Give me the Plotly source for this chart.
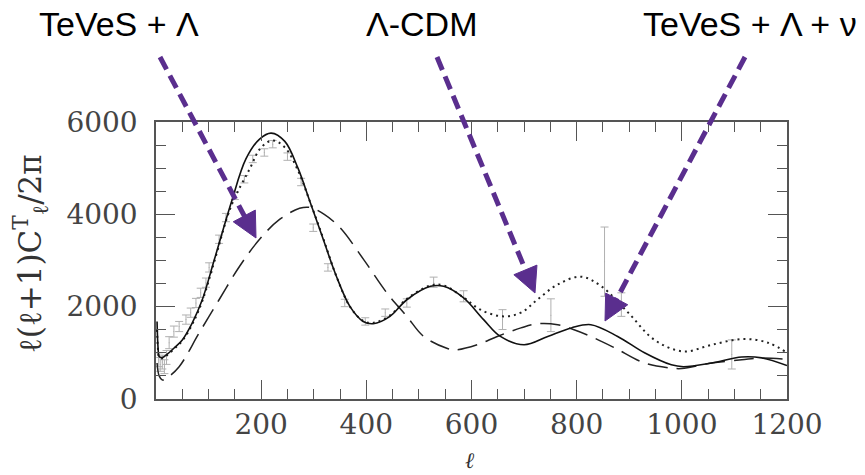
import plotly.graph_objects as go
import math

# ---------------- data ----------------
# solid curve (TeVeS + Lambda + nu)
ell_solid = [2, 4, 6, 12, 20, 34, 50, 69, 88, 111, 143, 171, 197, 219, 245, 270, 292, 318,
             343, 369, 394, 413, 445, 477, 522, 547, 585, 623, 655, 700, 745, 790, 827,
             878, 929, 980, 1003, 1057, 1114, 1152, 1200]
cl_solid = [1680, 1100, 920, 900, 960, 1100, 1280, 1650, 2150, 3020, 4250, 5200, 5630, 5760,
            5580, 5000, 4300, 3460, 2660, 2000, 1680, 1630, 1790, 2150, 2440, 2440, 2190,
            1720, 1355, 1175, 1355, 1540, 1610, 1355, 1000, 740, 700, 780, 910, 890, 725]

# dotted curve (Lambda-CDM)
ell_dotted = [2, 4, 6, 12, 20, 34, 50, 69, 88, 111, 143, 178, 200, 222, 245, 270, 292, 318,
              343, 369, 394, 413, 445, 477, 522, 547, 585, 617, 659, 694, 725, 764, 808,
              847, 898, 948, 1003, 1057, 1117, 1165, 1200]
cl_dotted = [1500, 1050, 900, 880, 940, 1080, 1260, 1620, 2120, 2980, 4180, 4980, 5450, 5600,
             5450, 4950, 4300, 3480, 2660, 2000, 1690, 1650, 1810, 2170, 2460, 2460, 2200,
             1935, 1790, 1870, 2150, 2480, 2650, 2440, 1870, 1280, 1030, 1175, 1300, 1215, 1000]

# dashed curve (TeVeS + Lambda)
ell_dashed = [2, 6, 12, 20, 44, 82, 120, 159, 197, 235, 273, 292, 320, 350, 395, 439, 477,
              509, 553, 570, 611, 649, 694, 725, 764, 795, 827, 872, 929, 980, 1000, 1057,
              1114, 1152, 1200]
cl_dashed = [780, 500, 410, 450, 700, 1430, 2150, 2875, 3460, 3890, 4130, 4150, 4000, 3710,
             3020, 2300, 1790, 1355, 1100, 1065, 1175, 1355, 1540, 1630, 1610, 1500, 1355,
             1110, 780, 670, 660, 780, 850, 890, 860]

# measurements with error bars
ell_obs = [5, 8, 12, 16, 20, 25, 34, 44, 57, 66, 76, 85, 95, 101, 120, 133, 150, 168, 184,
           206, 222, 250, 276, 299, 327, 359, 398, 436, 477, 528, 585, 659, 751, 853, 885, 1095]
cl_obs = [850, 750, 800, 700, 900, 1220, 1460, 1570, 1720, 1870, 2080, 2300, 2520, 2850,
          3460, 3930, 4400, 4760, 5200, 5340, 5520, 5250, 4700, 3710, 2850, 2080, 1680, 1870,
          2080, 2530, 2225, 1720, 1815, 2975, 2045, 965]
err_obs = [150, 150, 150, 150, 150, 130, 120, 110, 100, 100, 100, 100, 100, 100, 90, 90, 80,
           80, 80, 80, 80, 80, 80, 80, 80, 80, 80, 80, 90, 110, 120, 215, 355, 750, 255, 315]

x_ticks = [200, 400, 600, 800, 1000, 1200]
y_ticks = [0, 2000, 4000, 6000]

labels = ["TeVeS + Λ", "Λ-CDM", "TeVeS + Λ + ν"]

# ---------------- figure ----------------
W, H = 865, 475
ML, MR, MT, MB = 156, 78, 122, 76
PW, PH = W - ML - MR, H - MT - MB

def px(x):
    return (x - ML) / PW

def py(y):
    return (H - MB - y) / PH

fig = go.Figure()

fig.add_trace(go.Scatter(
    x=ell_obs, y=cl_obs, mode="markers",
    marker=dict(size=1, color="#aaaaaa"),
    error_y=dict(type="data", array=err_obs, color="#b0b0b0", thickness=1, width=4),
    hoverinfo="skip", showlegend=False))

fig.add_trace(go.Scatter(x=ell_dashed, y=cl_dashed, mode="lines", line_shape="spline",
                         line=dict(color="#222222", width=1.5, dash="20px,9px"),
                         showlegend=False))
fig.add_trace(go.Scatter(x=ell_dotted, y=cl_dotted, mode="lines", line_shape="spline",
                         line=dict(color="#222222", width=2, dash="2px,4px"),
                         showlegend=False))
fig.add_trace(go.Scatter(x=ell_solid, y=cl_solid, mode="lines", line_shape="spline",
                         line=dict(color="#111111", width=1.6), showlegend=False))

axis_common = dict(
    showline=True, linecolor="#555555", linewidth=1.5, mirror="allticks",
    ticks="inside", ticklen=19, tickwidth=1.2, tickcolor="#555555",
    showgrid=False, zeroline=False,
    tickfont=dict(family="DejaVu Serif", size=28, color="#444444"),
)

fig.update_xaxes(range=[0, 1200], tickvals=x_ticks, ticktext=[str(v) for v in x_ticks],
                 minor=dict(dtick=50, tick0=0, ticks="inside", ticklen=10,
                            tickcolor="#555555", tickwidth=1.2, showgrid=False),
                 ticklabelstandoff=0, **axis_common)
fig.update_yaxes(range=[0, 6000], tickvals=y_ticks, ticktext=[str(v) for v in y_ticks],
                 minor=dict(dtick=500, tick0=0, ticks="inside", ticklen=10,
                            tickcolor="#555555", tickwidth=1.2, showgrid=False),
                 ticklabelstandoff=11, **axis_common)

annotations = []
# axis titles
annotations.append(dict(x=px(30), y=py(254), xref="paper", yref="paper",
                        xanchor="center", yanchor="middle",
                        text="ℓ(ℓ+1)C<sup>T</sup><sub>ℓ</sub>/2π", textangle=-90,
                        showarrow=False, font=dict(family="DejaVu Serif", size=31, color="#333333")))
annotations.append(dict(x=px(470), y=py(460), xref="paper", yref="paper",
                        xanchor="center", yanchor="middle",
                        text="<i>ℓ</i>", showarrow=False,
                        font=dict(family="DejaVu Serif", size=22, color="#333333")))
# labels
label_pos = [(119, 24), (421, 24), (750, 24)]
for t, (lx, ly) in zip(labels, label_pos):
    annotations.append(dict(x=px(lx), y=py(ly), xref="paper", yref="paper", text=t,
                            xanchor="center", yanchor="middle", showarrow=False,
                            font=dict(family="Liberation Sans", size=34, color="#000000")))

# arrows (pixel geometry -> paper)
arrows = [((160, 57), (256, 238)), ((437, 57), (535, 293)), ((745, 57), (605, 321))]
purple = "#5a2e8e"
shapes = []
HL, HW = 25, 25
for (sx, sy), (tx, ty) in arrows:
    dx, dy = tx - sx, ty - sy
    L = math.hypot(dx, dy)
    ux, uy = dx / L, dy / L
    nx, ny = -uy, ux
    bx, by = tx - ux * HL, ty - uy * HL
    shapes.append(dict(type="line", xref="paper", yref="paper",
                       x0=px(sx), y0=py(sy), x1=px(bx + ux * 2), y1=py(by + uy * 2),
                       line=dict(color=purple, width=5, dash="14px,7px")))
    p1 = (bx + nx * HW / 2, by + ny * HW / 2)
    p2 = (bx - nx * HW / 2, by - ny * HW / 2)
    path = "M {:.5f},{:.5f} L {:.5f},{:.5f} L {:.5f},{:.5f} Z".format(
        px(tx), py(ty), px(p1[0]), py(p1[1]), px(p2[0]), py(p2[1]))
    shapes.append(dict(type="path", xref="paper", yref="paper", path=path,
                       fillcolor=purple, line=dict(color=purple, width=1)))

fig.update_layout(
    width=W, height=H, margin=dict(l=ML, r=MR, t=MT, b=MB),
    paper_bgcolor="white", plot_bgcolor="white",
    annotations=annotations, shapes=shapes, showlegend=False,
)

fig.write_html("out.html", config={"displayModeBar": False},
               post_script="document.body.style.margin='0';document.body.style.overflow='hidden';")
